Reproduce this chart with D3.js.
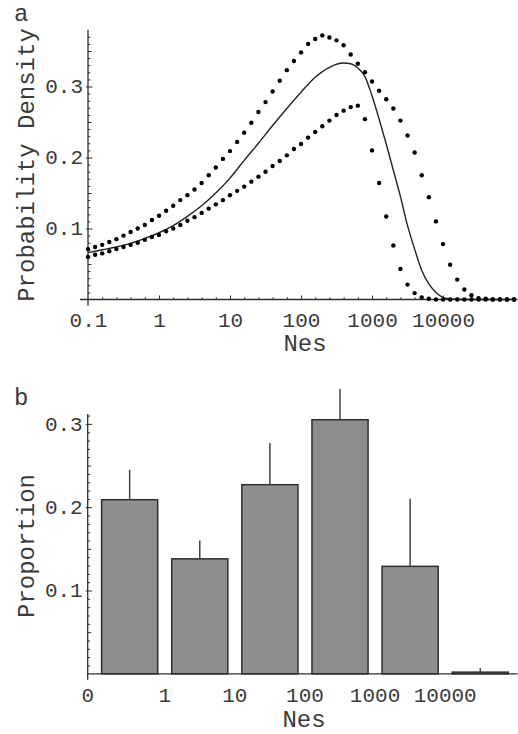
<!DOCTYPE html>
<html>
<head>
<meta charset="utf-8">
<script src="https://cdn.jsdelivr.net/npm/d3@7"></script>
<style>
  html, body { margin: 0; padding: 0; background: #fff; }
  svg { display: block; }
  text { font-family: "Liberation Mono", "DejaVu Sans Mono", monospace; fill: #3a3a3a; }
</style>
</head>
<body>
<div id="chart"></div>
<script>
// ---------------- DATA ----------------
// Panel a: log10(Nes) sample grid for the dotted bounds
const dotLogNes = [
  -1.0,-0.9,-0.8,-0.7,-0.6,-0.5,-0.4,-0.3,-0.2,-0.1,
   0.0, 0.1, 0.2, 0.3, 0.4, 0.5, 0.6, 0.7, 0.8, 0.9,
   1.0, 1.1, 1.2, 1.3, 1.4, 1.5, 1.6, 1.7, 1.8, 1.9,
   2.0, 2.1, 2.2, 2.3, 2.4, 2.5, 2.6, 2.7, 2.8, 2.9,
   3.0, 3.1, 3.2, 3.3, 3.4, 3.5, 3.6, 3.7, 3.8, 3.9,
   4.0, 4.1, 4.2, 4.3, 4.4, 4.5, 4.6, 4.7, 4.8, 4.9, 5.0
];
const upperDensity = [
  0.071,0.074,0.077,0.081,0.085,0.090,0.095,0.100,0.105,0.112,
  0.118,0.125,0.132,0.140,0.147,0.155,0.164,0.175,0.186,0.198,
  0.209,0.222,0.235,0.249,0.264,0.278,0.293,0.308,0.323,0.336,
  0.348,0.360,0.367,0.372,0.369,0.365,0.358,0.345,0.332,0.320,
  0.307,0.294,0.282,0.269,0.252,0.231,0.207,0.175,0.144,0.110,
  0.078,0.049,0.028,0.014,0.006,0.002,0.001,0.000,0.000,0.000,0.000
];
const lowerDensity = [
  0.060,0.063,0.065,0.068,0.071,0.074,0.077,0.080,0.084,0.088,
  0.091,0.096,0.100,0.105,0.111,0.116,0.122,0.128,0.134,0.140,
  0.147,0.153,0.159,0.166,0.173,0.180,0.188,0.195,0.203,0.212,
  0.219,0.228,0.236,0.244,0.252,0.260,0.266,0.271,0.273,0.254,
  0.210,0.164,0.117,0.076,0.043,0.021,0.009,0.003,0.001,0.000,
  0.000,0.000,0.000,0.000,0.000,0.000,0.000,0.000,0.000,0.000,0.000
];
// Solid central curve
const solidLogNes = [
  -1.0,-0.8,-0.6,-0.4,-0.2,0.0,0.2,0.4,0.6,0.8,1.0,1.2,1.4,1.6,1.8,2.0,2.2,2.4,
  2.6,2.7,2.8,2.9,3.0,3.1,3.2,3.3,3.4,3.5,3.6,3.7,3.8,3.9,4.0,4.1,4.2,4.6,5.0
];
const solidDensity = [
  0.066,0.070,0.074,0.079,0.086,0.094,0.104,0.117,0.132,0.150,0.171,0.196,0.220,0.245,0.269,0.292,0.313,0.327,
  0.333,0.332,0.326,0.314,0.287,0.254,0.219,0.182,0.145,0.104,0.071,0.041,0.022,0.010,0.003,0.001,0.000,0.000,0.000
];
const xTickLogA = [-1, 0, 1, 2, 3, 4];
const xTickLabelsA = ["0.1", "1", "10", "100", "1000", "10000"];
const yTicksA = [0.1, 0.2, 0.3];

// Panel b
const binLabels = ["0", "1", "10", "100", "1000", "10000"];
const binNames = ["0-1", "1-10", "10-100", "100-1000", "1000-10000", ">10000"];
const proportion = [0.209, 0.138, 0.227, 0.305, 0.129, 0.002];
const errorUpper = [0.245, 0.160, 0.277, 0.342, 0.210, 0.007];
const yTicksB = [0.1, 0.2, 0.3];

// ---------------- DRAW ----------------
const W = 518, H = 734;
const svg = d3.select("#chart").append("svg").attr("width", W).attr("height", H);
const axisColor = "#2e2e2e";

function minorValues(lo, hi, step) {
  const out = [];
  for (let v = lo; v <= hi + 1e-9; v += step) out.push(+v.toFixed(4));
  return out;
}

// ===== Panel a =====
const xA = d3.scaleLinear().domain([-1, 5.05]).range([88, 517.6]);
const yA = d3.scaleLinear().domain([0, 0.38]).range([299.5, 29.7]);
const gA = svg.append("g");

// axis lines
gA.append("line").attr("x1", 80).attr("x2", xA(5.05)).attr("y1", yA(0)).attr("y2", yA(0))
  .attr("stroke", axisColor).attr("stroke-width", 1.3);
gA.append("line").attr("x1", xA(-1)).attr("x2", xA(-1)).attr("y1", yA(0.38)).attr("y2", yA(0) + 6)
  .attr("stroke", axisColor).attr("stroke-width", 1.3);

// x minor ticks
const xMinorA = minorValues(-0.8, 5.0, 0.2).filter(v => Math.abs(v - Math.round(v)) > 1e-6);
gA.append("g").attr("transform", `translate(0,${yA(0)})`)
  .call(d3.axisBottom(xA).tickValues(xMinorA).tickSize(-2.2).tickFormat(""))
  .call(g => g.select(".domain").remove())
  .call(g => g.selectAll("line").attr("stroke", axisColor));
// x major ticks
gA.append("g").attr("transform", `translate(0,${yA(0)})`)
  .call(d3.axisBottom(xA).tickValues(xTickLogA.slice(1)).tickSize(-4).tickFormat(""))
  .call(g => g.select(".domain").remove())
  .call(g => g.selectAll("line").attr("stroke", axisColor));
// x labels
gA.append("g").attr("transform", `translate(0,${yA(0)})`)
  .call(d3.axisBottom(xA).tickValues(xTickLogA).tickSize(0).tickFormat((d) => xTickLabelsA[xTickLogA.indexOf(d)]))
  .call(g => g.select(".domain").remove())
  .call(g => g.selectAll("line").remove())
  .call(g => g.selectAll("text").attr("y", 27.5).attr("dy", 0)
    .style("font-size", "21px").style("font-family", "Liberation Mono").attr("fill", "#3a3a3a"));

// y minor ticks
const yMinorA = minorValues(0.01, 0.37, 0.01).filter(v => Math.abs(v * 10 - Math.round(v * 10)) > 1e-6);
gA.append("g").attr("transform", `translate(${xA(-1)},0)`)
  .call(d3.axisLeft(yA).tickValues(yMinorA).tickSize(-2.4).tickFormat(""))
  .call(g => g.select(".domain").remove())
  .call(g => g.selectAll("line").attr("stroke", axisColor)
    .attr("x2", d => Math.abs(d * 20 - Math.round(d * 20)) < 1e-6 ? 3.5 : 2.4));
gA.append("g").attr("transform", `translate(${xA(-1)},0)`)
  .call(d3.axisLeft(yA).tickValues(yTicksA).tickSize(-4.5).tickPadding(5).tickFormat(d3.format(".1f")))
  .call(g => g.select(".domain").remove())
  .call(g => g.selectAll("line").attr("stroke", axisColor).attr("x1", -2))
  .call(g => g.selectAll("text").attr("dy", "0.3em")
    .style("font-size", "21px").style("font-family", "Liberation Mono").attr("fill", "#3a3a3a"));

// solid curve
const lineA = d3.line().x((d, i) => xA(solidLogNes[i])).y(d => yA(d)).curve(d3.curveMonotoneX);
gA.append("path").datum(solidDensity).attr("d", lineA)
  .attr("fill", "none").attr("stroke", "#222").attr("stroke-width", 1.4);

// dots
[upperDensity, lowerDensity].forEach(series => {
  gA.append("g").selectAll("circle").data(series).join("circle")
    .attr("cx", (d, i) => xA(dotLogNes[i])).attr("cy", d => yA(d))
    .attr("r", 2.2).attr("fill", "#000");
});

// labels
gA.append("text").attr("x", 305).attr("y", 351).attr("text-anchor", "middle")
  .style("font-size", "24px").text("Nes");
gA.append("text").attr("transform", `translate(34,${165}) rotate(-90)`).attr("text-anchor", "middle")
  .style("font-size", "24px").text("Probability Density");
gA.append("text").attr("x", 14).attr("y", 21).style("font-size", "24px").text("a");

// ===== Panel b =====
const yB = d3.scaleLinear().domain([0, 0.312]).range([673.8, 673.8 - 0.312 * 833]);
const xB = d3.scaleBand().domain(binNames).range([94.6, 515.3]).paddingInner(0.2).paddingOuter(0.1);
const gB = svg.append("g");
const originB = 87.7;

// bars
gB.append("g").selectAll("rect").data(proportion).join("rect")
  .attr("x", (d, i) => xB(binNames[i])).attr("width", xB.bandwidth())
  .attr("y", d => yB(d)).attr("height", d => yB(0) - yB(d))
  .attr("fill", "#8e8e8e").attr("stroke", "#2e2e2e").attr("stroke-width", 1.5);
// error bars
gB.append("g").selectAll("line").data(errorUpper).join("line")
  .attr("x1", (d, i) => xB(binNames[i]) + xB.bandwidth() / 2)
  .attr("x2", (d, i) => xB(binNames[i]) + xB.bandwidth() / 2)
  .attr("y1", (d, i) => yB(proportion[i])).attr("y2", d => yB(d))
  .attr("stroke", "#444").attr("stroke-width", 1.5);

// axes
gB.append("line").attr("x1", originB).attr("x2", 517.6).attr("y1", yB(0)).attr("y2", yB(0))
  .attr("stroke", axisColor).attr("stroke-width", 1.3);
gB.append("line").attr("x1", originB).attr("x2", originB).attr("y1", yB(0.312)).attr("y2", yB(0) + 6)
  .attr("stroke", axisColor).attr("stroke-width", 1.3);

const yMinorB = minorValues(0.01, 0.31, 0.01).filter(v => Math.abs(v * 10 - Math.round(v * 10)) > 1e-6);
gB.append("g").attr("transform", `translate(${originB},0)`)
  .call(d3.axisLeft(yB).tickValues(yMinorB).tickSize(-2.4).tickFormat(""))
  .call(g => g.select(".domain").remove())
  .call(g => g.selectAll("line").attr("stroke", axisColor)
    .attr("x2", d => Math.abs(d * 20 - Math.round(d * 20)) < 1e-6 ? 3.5 : 2.4));
gB.append("g").attr("transform", `translate(${originB},0)`)
  .call(d3.axisLeft(yB).tickValues(yTicksB).tickSize(-4.5).tickPadding(5).tickFormat(d3.format(".1f")))
  .call(g => g.select(".domain").remove())
  .call(g => g.selectAll("line").attr("stroke", axisColor).attr("x1", -2))
  .call(g => g.selectAll("text").attr("dy", "0.3em")
    .style("font-size", "21px").style("font-family", "Liberation Mono").attr("fill", "#3a3a3a"));

// x labels at bin boundaries
const boundaryX = binLabels.map((lab, i) => i === 0 ? originB : xB(binNames[i]) - xB.step() * xB.paddingInner() / 2);
const xLabelScale = d3.scaleOrdinal().domain(binLabels).range(boundaryX);
gB.append("g").attr("transform", `translate(0,${yB(0)})`)
  .call(d3.axisBottom(d3.scalePoint().domain(binLabels).range([0, 1])).tickSize(0).tickFormat(d => d))
  .call(g => g.select(".domain").remove())
  .call(g => g.selectAll(".tick").attr("transform", d => `translate(${xLabelScale(d)},0)`))
  .call(g => g.selectAll("text").attr("y", 28.5).attr("dy", 0)
    .style("font-size", "21px").style("font-family", "Liberation Mono").attr("fill", "#3a3a3a"));

gB.append("text").attr("x", 304).attr("y", 727).attr("text-anchor", "middle")
  .style("font-size", "24px").text("Nes");
gB.append("text").attr("transform", `translate(34,${546}) rotate(-90)`).attr("text-anchor", "middle")
  .style("font-size", "24px").text("Proportion");
gB.append("text").attr("x", 14).attr("y", 405).style("font-size", "24px").text("b");
</script>
</body>
</html>
